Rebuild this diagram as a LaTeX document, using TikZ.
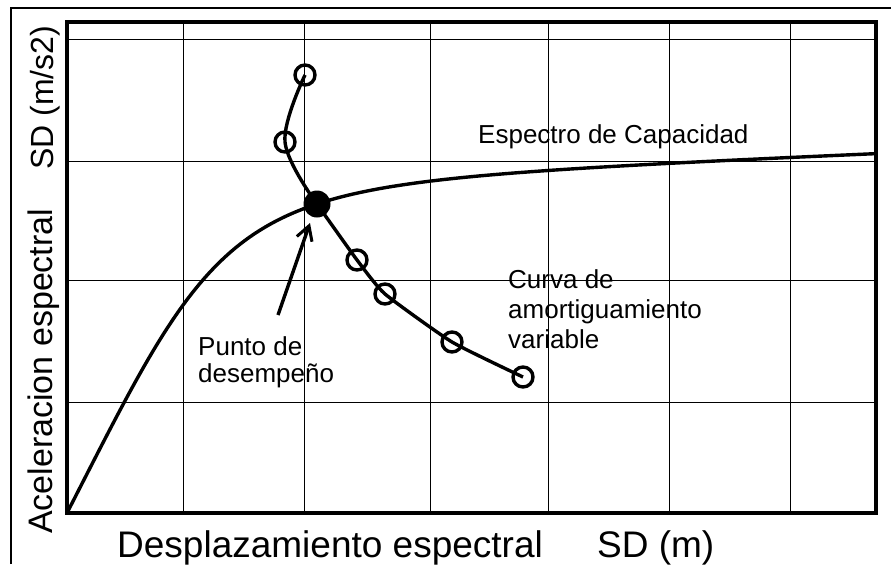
\documentclass[tikz,border=0pt]{standalone}
\usepackage{fontspec}
\setmainfont{Liberation Sans}
\usetikzlibrary{arrows.meta}
\begin{document}
\begin{tikzpicture}[x=1pt,y=-1pt,
  gridline/.style={line width=1pt},
  frameline/.style={line width=3.4pt},
  curveline/.style={line width=3.4pt},
  ring/.style={circle,draw,line width=3.4pt,minimum size=20pt,inner sep=0pt},
  dot/.style={circle,fill,minimum size=27pt,inner sep=0pt},
  note/.style={font=\fontsize{26}{29}\selectfont,inner sep=0pt},
  axislabel/.style={font=\fontsize{37}{40}\selectfont,inner sep=0pt}]
\useasboundingbox (0,0) rectangle (891,565);
% outer frame
\draw[line width=1.2pt] (11,564) -- (11,8) -- (891,8);
% grid
\foreach \gx in {183,304,430,548,669,790} \draw[gridline] (\gx,22) -- (\gx,513);
\foreach \gy in {39,161,280,402} \draw[gridline] (67,\gy) -- (876,\gy);
\draw[frameline] (67,22) rectangle (876,513);
% capacity spectrum
\draw[curveline,line join=round] plot[domain=0:809,samples=160]
  ({67+\x},{513-(328*(\x/171)/((1+(\x/171)^3)^(1/3))+0.04*\x)});
% variable damping curve
\coordinate (p1) at (305,75);
\coordinate (p2) at (285,142);
\coordinate (pd) at (317,204);
\coordinate (p3) at (357,260);
\coordinate (p4) at (385,294);
\coordinate (p5) at (452,342);
\coordinate (p6) at (523,377);
\draw[curveline] plot[smooth,tension=0.6] coordinates {(p1) (p2) (pd)};
\draw[curveline] plot[smooth,tension=0.3] coordinates {(pd) (p3) (p4) (p5) (p6)};
\node[ring] (c1) at (p1) {};
\node[ring] (c2) at (p2) {};
\node[ring] (c3) at (p3) {};
\node[ring] (c4) at (p4) {};
\node[ring] (c5) at (p5) {};
\node[ring] (c6) at (p6) {};
\node[dot] (perf) at (pd) {};
% labels
\node[note,anchor=base west] (cap) at (478,143) {Espectro de Capacidad};
\node[note,anchor=base west,align=left,font=\fontsize{26}{30}\selectfont] (damp) at (508,348) {Curva de\\amortiguamiento\\variable};
\node[note,anchor=base west,align=left,font=\fontsize{26}{27}\selectfont] (punto) at (198,382) {Punto de\\desempeño};
\coordinate (atail) at (278,315);
\coordinate (ahead) at (310,223);
\draw[curveline,-{Straight Barb[length=14pt,width=16pt,line width=3pt]}] (atail) -- (ahead);
% axis labels
\node[axislabel,anchor=base west] (xl1) at (117,557) {Desplazamiento espectral};
\node[axislabel,anchor=base west] (xl2) at (597,557) {SD (m)};
\node[axislabel,anchor=base west,rotate=90,font=\fontsize{34}{38}\selectfont] (yl1) at (52,534) {Aceleracion espectral};
\node[axislabel,anchor=base west,rotate=90,font=\fontsize{32}{36}\selectfont] (yl2) at (53,170) {SD (m/s2)};
\end{tikzpicture}
\end{document}
